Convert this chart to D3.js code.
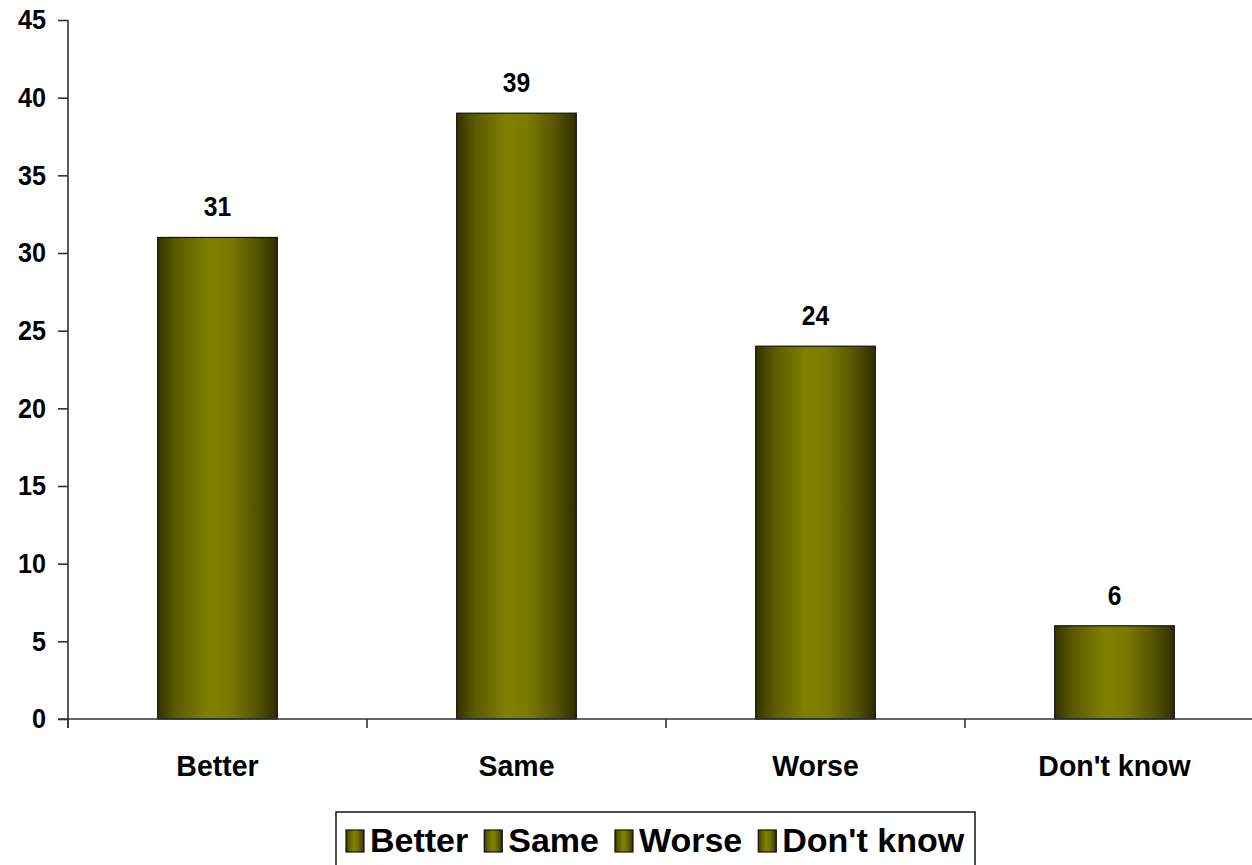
<!DOCTYPE html>
<html><head><meta charset="utf-8">
<script src="https://cdn.jsdelivr.net/npm/d3@7"></script>
<style>
html,body{margin:0;padding:0;background:#fff;overflow:hidden}
text{font-family:"Liberation Sans",Arial,sans-serif;font-weight:bold;fill:#000}
</style></head>
<body>
<svg id="chart" width="1252" height="865"></svg>
<script>
const categories = ["Better", "Same", "Worse", "Don't know"];
const values = [31, 39, 24, 6];
const yTicks = [0, 5, 10, 15, 20, 25, 30, 35, 40, 45];

(function () {
const svg = d3.select("#chart");
const pLeft = 68, pRight = 1264, pTop = 20, pBottom = 719;

const x = d3.scaleBand().domain(categories).range([pLeft, pRight]).paddingInner(0.6).paddingOuter(0.3);
const y = d3.scaleLinear().domain([0, 45]).range([pBottom, pTop]);

const defs = svg.append("defs");
const g = defs.append("linearGradient").attr("id", "barGrad").attr("x1", "0%").attr("x2", "100%").attr("y1", "0%").attr("y2", "0%");
[["0%", "#333300"], ["15%", "#5a5a00"], ["42%", "#808000"], ["60%", "#7a7a00"], ["85%", "#505000"], ["100%", "#2e2e00"]]
  .forEach(([o, c]) => g.append("stop").attr("offset", o).attr("stop-color", c));

// bars
svg.selectAll("rect.bar").data(values).enter().append("rect")
  .attr("class", "bar")
  .attr("x", (d, i) => x(categories[i]))
  .attr("y", d => y(d))
  .attr("width", x.bandwidth())
  .attr("height", d => y(0) - y(d))
  .attr("fill", "url(#barGrad)")
  .attr("stroke", "#111")
  .attr("stroke-width", 1.2);

// value labels
svg.selectAll("text.val").data(values).enter().append("text")
  .attr("class", "val")
  .attr("transform", (d, i) => `translate(${x(categories[i]) + x.bandwidth() / 2},${y(d) - 21}) scale(0.88,1)`)
  .attr("text-anchor", "middle")
  .attr("font-size", 28)
  .text(d => d);

// y axis
const yAxis = d3.axisLeft(y).tickValues(yTicks).tickSize(10).tickPadding(11);
const ya = svg.append("g").attr("transform", `translate(${pLeft},0)`).call(yAxis);
ya.select(".domain").attr("stroke", "#333").attr("stroke-width", 1.6).attr("d", `M0,${pTop}V${pBottom + 9}`);
ya.selectAll(".tick line").attr("stroke", "#333").attr("stroke-width", 1.6);
ya.selectAll(".tick text")
  .attr("font-size", 28).attr("font-family", "Liberation Sans, Arial, sans-serif").attr("font-weight", "bold").attr("fill", "#000")
  .attr("x", -22 / 0.9).attr("transform", "scale(0.9,1)");

// x axis
const xa = svg.append("g").attr("transform", `translate(0,${pBottom})`);
xa.append("line").attr("x1", pLeft - 10).attr("x2", pRight).attr("y1", 0).attr("y2", 0).attr("stroke", "#333").attr("stroke-width", 1.6);
const step = x.step();
const boundaries = categories.map(c => x(c) - x.paddingOuter() * step);
xa.selectAll("line.tk").data(boundaries.concat([pRight])).enter().append("line")
  .attr("class", "tk").attr("x1", d => d).attr("x2", d => d).attr("y1", 0).attr("y2", 9)
  .attr("stroke", "#333").attr("stroke-width", 1.6);
xa.selectAll("text.cat").data(categories).enter().append("text")
  .attr("class", "cat")
  .attr("transform", d => `translate(${x(d) + x.bandwidth() / 2},57) scale(0.95,1)`)
  .attr("text-anchor", "middle")
  .attr("font-size", 30)
  .text(d => d);

// legend
const lg = svg.append("g");
lg.append("rect").attr("x", 336).attr("y", 812).attr("width", 639).attr("height", 80)
  .attr("fill", "#fff").attr("stroke", "#222").attr("stroke-width", 1.6);
let cx = 346;
categories.forEach((c, i) => {
  lg.append("rect").attr("x", cx).attr("y", 830).attr("width", 18).attr("height", 22)
    .attr("fill", "url(#barGrad)").attr("stroke", "#111").attr("stroke-width", 1.2);
  const t = lg.append("text").attr("x", cx + 24).attr("y", 852).attr("font-size", 34).text(c);
  cx = cx + 24 + t.node().getComputedTextLength() + 16;
});
})();
</script>
</body></html>
